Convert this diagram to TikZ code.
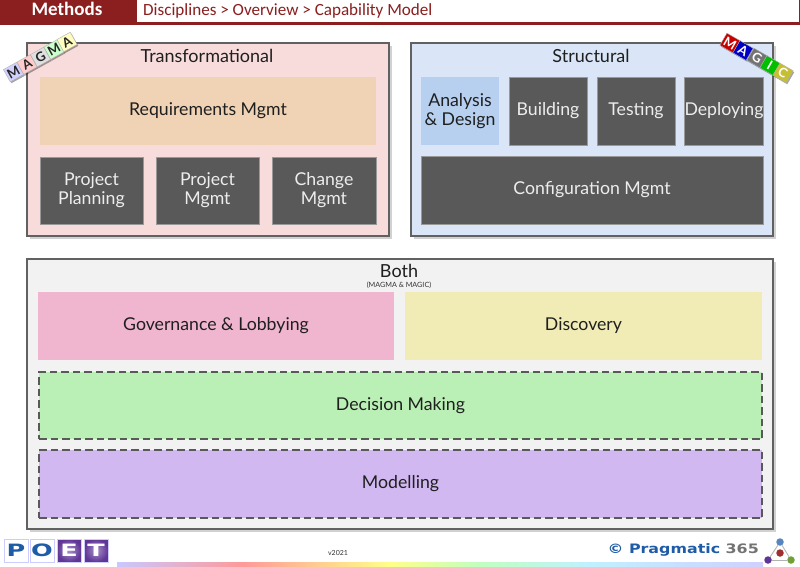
\documentclass[tikz,border=0pt]{standalone}
\usepackage{fontspec}
\setmainfont{Lato}
\newfontfamily\hdrfont{Carlito}
\newfontfamily\widefont[FakeStretch=1.22]{DejaVu Sans}
\newfontfamily\poetfont[FakeStretch=1.5]{DejaVu Sans}
\usetikzlibrary{shadows,calc}
\definecolor{hdr}{HTML}{8B1F1F}
\definecolor{darkbox}{HTML}{595959}
\definecolor{pinkpanel}{HTML}{F8DCDC}
\definecolor{bluepanel}{HTML}{DAE6F7}
\definecolor{greypanel}{HTML}{F2F2F2}
\definecolor{reqfill}{HTML}{EFD3B4}
\definecolor{adfill}{HTML}{B7D0EF}
\definecolor{govfill}{HTML}{F0B6CF}
\definecolor{discfill}{HTML}{F1ECB6}
\definecolor{decfill}{HTML}{BAF0B6}
\definecolor{modfill}{HTML}{D2B8F0}
\definecolor{logoblue}{HTML}{1F5CA8}
\definecolor{logopurple}{HTML}{5F3596}
\definecolor{dotgreen}{HTML}{70A038}
\definecolor{dotred}{HTML}{A03030}
\definecolor{stripa}{HTML}{C8C8FF}
\definecolor{stripb}{HTML}{FF9999}
\definecolor{stripc}{HTML}{FFFF88}
\definecolor{stripd}{HTML}{C0FFC0}
\definecolor{stripe}{HTML}{C0F0FF}
\definecolor{stripf}{HTML}{D0D0FF}
\tikzset{
  x=1pt,y=-1pt,
  panel/.style={draw=black!62,line width=1.1pt,fill=#1,inner sep=0pt,
    drop shadow={shadow xshift=2.6pt,shadow yshift=-2.6pt,opacity=.18,fill=black},
    drop shadow={shadow xshift=1.2pt,shadow yshift=-1.2pt,opacity=.35,fill=black}},
  capbox/.style={fill=#1,text=black!88,font=\fontsize{17.7}{19}\selectfont,align=center,inner sep=0pt},
  darkcap/.style={fill=darkbox,draw=black!40,line width=.4pt,text=white!93!black,font=\fontsize{17.7}{19}\selectfont,align=center,inner sep=0pt},
  dashcap/.style={draw=black!65,dash pattern=on 7.5pt off 4pt,line width=1.3pt,fill=#1,text=black!88,font=\fontsize{17.7}{19}\selectfont,inner sep=0pt},
  tile/.style={minimum width=15.2pt,minimum height=14pt,inner sep=0pt,fill=#1,draw=black!30,line width=.4pt,font=\bfseries\fontsize{13}{13}\selectfont,
    drop shadow={shadow xshift=1.2pt,shadow yshift=-1.4pt,opacity=.35,fill=black}},
  ltitle/.style={text=black!88,font=\fontsize{18}{19}\selectfont,inner sep=0pt},
  poet/.style={minimum width=24pt,minimum height=23pt,inner sep=0pt,draw=#1,line width=.7pt,font=\poetfont\bfseries\fontsize{17}{17}\selectfont},
  dotn/.style={circle,fill=#1,minimum size=7.5pt,inner sep=0pt},
  spoke/.style={draw=black!30,line width=.8pt},
}
\newcommand{\boxat}[7]{%
  \node[#1,minimum width={#4-#2},minimum height={#5-#3}] (#6) at ({(#2+#4)/2},{(#3+#5)/2}) {#7};}
\begin{document}
\begin{tikzpicture}
\useasboundingbox (0,0) rectangle (800,566);
\fill[white] (0,0) rectangle (800,566);
% header
\fill[hdr] (0,0) rectangle (137,25);
\fill[hdr] (0,22) rectangle (800,25);
\fill[hdr] (798.8,0) rectangle (800,25);
\node[text=white,inner sep=0pt,font=\hdrfont\bfseries\fontsize{19}{21}\selectfont] (methods) at (67,9) {Methods};
\node[anchor=west,text=hdr,inner sep=0pt,font=\hdrfont\fontsize{17.1}{19}\selectfont] (crumb) at (143,10.5) {Disciplines > Overview > Capability Model};
% panels
\boxat{panel=pinkpanel}{27}{43}{389}{236}{transf}{}
\boxat{panel=bluepanel}{411}{43}{773}{236}{struct}{}
\boxat{panel=greypanel}{27}{259}{773}{529}{both}{}
% titles
\node[ltitle] (ttransf) at (207,55.5) {Transformational};
\node[ltitle] (tstruct) at (591,56) {Structural};
\node[ltitle] (tboth) at (399,271) {Both};
\node[inner sep=0pt,text=black!80,font=\fontsize{7.2}{8}\selectfont] (tbothsub) at (399,285) {(MAGMA \& MAGIC)};
% transformational
\boxat{capbox=reqfill}{40}{77}{376}{145}{req}{Requirements Mgmt}
\boxat{darkcap}{40}{157}{143}{224}{pp}{Project\\Planning}
\boxat{darkcap}{156}{157}{259}{224}{pm}{Project\\Mgmt}
\boxat{darkcap}{272}{157}{376}{224}{cm}{Change\\Mgmt}
% structural
\boxat{capbox=adfill}{421}{77}{499}{145}{ad}{Analysis\\\&~Design}
\boxat{darkcap}{509}{77}{587}{145}{bld}{Building}
\boxat{darkcap}{597}{77}{675}{145}{tst}{Testing}
\boxat{darkcap}{685}{77}{763}{145}{dep}{Deploying}
\boxat{darkcap}{421}{156}{763}{224}{cfg}{Configuration Mgmt}
% both
\boxat{capbox=govfill}{38}{292}{394}{360}{gov}{Governance \& Lobbying}
\boxat{capbox=discfill}{405}{292}{762}{360}{disc}{Discovery}
\boxat{dashcap=decfill}{39}{372}{762}{439}{dec}{Decision Making}
\boxat{dashcap=modfill}{39}{450}{762}{518}{mod}{Modelling}
% MAGMA tiles
\node[tile=blue!18,rotate=29,text=black!85] (ma1) at (13.5,72) {M};
\node[tile=red!20,rotate=29,text=black!85] (ma2) at (27,64.5) {A};
\node[tile=black!12,rotate=29,text=black!85] (ma3) at (40.5,57) {G};
\node[tile=green!20,rotate=29,text=black!85] (ma4) at (54,49.5) {M};
\node[tile=yellow!25,rotate=29,text=black!85] (ma5) at (67,42) {A};
% MAGIC tiles
\node[tile=red!78!black,rotate=-30,text=white] (mi1) at (730,43) {M};
\node[tile=blue!78!black,rotate=-30,text=white] (mi2) at (743,50.5) {A};
\node[tile=black!55,rotate=-30,text=white] (mi3) at (757,58) {G};
\node[tile=green!75!black,rotate=-30,text=white] (mi4) at (770,65.5) {I};
\node[tile=yellow!75!black,rotate=-30,text=white] (mi5) at (783,73) {C};
% POET logo
\node[poet=blue!20,text=logoblue] (lp) at (16,550.5) {P};
\node[poet=blue!20,text=logoblue] (lo) at (42,550.5) {O};
\node[poet=blue!20,inner color=logopurple!55!white,outer color=logopurple,text=white] (le) at (69,550.5) {E};
\node[poet=blue!20,inner color=logopurple!55!white,outer color=logopurple,text=white] (lt) at (96,550.5) {T};
% version
\node[inner sep=0pt,text=black!80,font=\fontsize{7}{8}\selectfont] (ver) at (338,553) {v2021};
% colour strip
\shade[left color=stripa,right color=stripb] (117,562) rectangle (243,566);
\shade[left color=stripb,right color=stripc] (243,562) rectangle (390,566);
\shade[left color=stripc,right color=stripd] (390,562) rectangle (480,566);
\shade[left color=stripd,right color=stripe] (480,562) rectangle (590,566);
\shade[left color=stripe,right color=stripf] (590,562) rectangle (763,566);
% Pragmatic logo
\node[anchor=east,inner sep=0pt,font=\widefont\bfseries\fontsize{13}{13}\selectfont] (prag) at (759,549.5)
  {\textcolor{logoblue}{©~Pragmatic}~\textcolor{black!55}{365}};
\node[dotn=logoblue!75!white] (d1) at (780,542) {};
\node[dotn=dotred] (d2) at (780,553) {};
\node[dotn=logopurple] (d3) at (768,560) {};
\node[dotn=dotgreen] (d4) at (791,560) {};
\draw[spoke] (d1) -- (d3);
\draw[spoke] (d1) -- (d4);
\draw[spoke] (d3) -- (d4);
\end{tikzpicture}
\end{document}
